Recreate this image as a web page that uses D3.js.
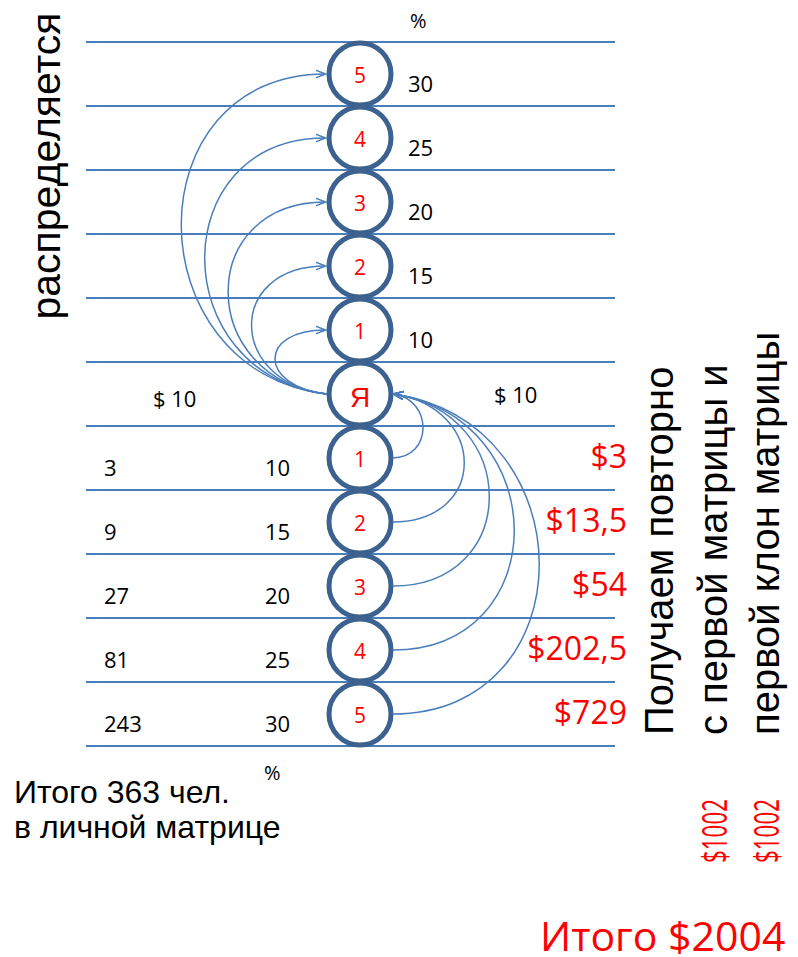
<!DOCTYPE html>
<html>
<head>
<meta charset="utf-8">
<script src="https://cdn.jsdelivr.net/npm/d3@7"></script>
<style>
  body { margin: 0; background: #fff; }
</style>
</head>
<body>
<div id="viz"></div>
<script>
// levels above "Я" (who you distribute to) and below (who pays you)
const upperLevels = [5, 4, 3, 2, 1];
const upperPercent = [30, 25, 20, 15, 10];
const lowerLevels = [1, 2, 3, 4, 5];
const lowerPeople = [3, 9, 27, 81, 243];
const lowerPercent = [10, 15, 20, 25, 30];
const lowerIncome = ["$3", "$13,5", "$54", "$202,5", "$729"];
const centerLabel = "Я";
const entryFee = "$ 10";
const sideTitle = "распределяется";
const rightLines = ["Получаем повторно", "с первой матрицы и", "первой клон матрицы"];
const rightSums = ["$1002", "$1002"];
const peopleNote = ["Итого 363 чел.", "в личной матрице"];
const grandTotal = "Итого $2004";

const width = 798;
const height = 957;
const rowCount = 11;
const meRow = 5;

const lineColor = "#4a7ebb";
const circleColor = "#3d6290";
const red = "#ff0000";
const calibri = "'Open Sans', sans-serif";
const arial = "'Liberation Sans', Arial, sans-serif";

const svg = d3.select("#viz")
  .append("svg")
    .attr("width", width)
    .attr("height", height);

const y = d3.scaleLinear().domain([0, rowCount]).range([42, 746]);
const rowCenter = i => y(i + 0.5);
const upperRow = l => meRow - l;
const lowerRow = l => meRow + l;

const cx = 360;
const r = 31;

// how far each curved arrow swings out
const leftBulge = d3.scaleLinear().domain([1, 5]).range([68, 193]);
const rightBulge = d3.scaleLinear().domain([1, 2, 5]).range([40, 95, 195]);

// arrow head
svg.append("defs").append("marker")
    .attr("id", "arrow")
    .attr("viewBox", "0 -5 11 10")
    .attr("refX", 10)
    .attr("refY", 0)
    .attr("markerWidth", 11)
    .attr("markerHeight", 10)
    .attr("markerUnits", "userSpaceOnUse")
    .attr("orient", "auto")
  .append("path")
    .attr("d", "M0,-4L10,0L0,4")
    .attr("fill", "none")
    .attr("stroke", lineColor)
    .attr("stroke-width", 1.5);

// horizontal lines
svg.append("g")
  .selectAll("line")
  .data(d3.range(rowCount + 1))
  .join("line")
    .attr("x1", 86)
    .attr("x2", 615)
    .attr("y1", d => y(d))
    .attr("y2", d => y(d))
    .attr("stroke", lineColor)
    .attr("stroke-width", 2);

// circles
const nodes = [
  ...upperLevels.map(l => ({ row: upperRow(l), label: String(l), me: false })),
  { row: meRow, label: centerLabel, me: true },
  ...lowerLevels.map(l => ({ row: lowerRow(l), label: String(l), me: false }))
];

const node = svg.append("g")
  .selectAll("g")
  .data(nodes)
  .join("g")
    .attr("transform", d => `translate(${cx},${rowCenter(d.row)})`);

node.append("circle")
    .attr("r", r)
    .attr("fill", "#fff")
    .attr("stroke", circleColor)
    .attr("stroke-width", 5);

node.append("text")
    .attr("text-anchor", "middle")
    .attr("y", d => d.me ? 13 : 9)
    .attr("fill", red)
    .style("font-family", d => d.me ? arial : calibri)
    .style("font-size", d => d.me ? "28px" : "21px")
    .text(d => d.label);

// curved arrows
const meY = rowCenter(meRow);
const edge = r + 2.5;

function leftArc(l) {
  const k = leftBulge(l);
  const sx = cx - edge, sy = meY;
  const tx = cx - edge - 1, ty = rowCenter(upperRow(l));
  const p = d3.path();
  p.moveTo(sx, sy);
  p.bezierCurveTo(sx - k, sy - 0.12 * k, tx - k, ty, tx, ty);
  return p.toString();
}

function rightArc(l) {
  const k = rightBulge(l);
  const sx = cx + edge - 1, sy = rowCenter(lowerRow(l));
  const tx = cx + edge, ty = meY;
  const p = d3.path();
  p.moveTo(sx, sy);
  p.bezierCurveTo(sx + k, sy, tx + k, ty + 0.15 * k, tx, ty);
  return p.toString();
}

const arcs = svg.append("g")
    .attr("fill", "none")
    .attr("stroke", lineColor)
    .attr("stroke-width", 1.5);

arcs.selectAll(".up")
  .data(upperLevels)
  .join("path")
    .attr("class", "up")
    .attr("d", leftArc)
    .attr("marker-end", "url(#arrow)");

arcs.selectAll(".down")
  .data(lowerLevels)
  .join("path")
    .attr("class", "down")
    .attr("d", rightArc)
    .attr("marker-end", "url(#arrow)");

// numbers
const txt = svg.append("g")
    .style("font-family", calibri)
    .style("font-size", "22px")
    .attr("fill", "#000");

txt.append("text").attr("x", 410).attr("y", 28).style("font-size", "20px").text("%");

txt.selectAll(".upPct")
  .data(upperLevels)
  .join("text")
    .attr("x", 408)
    .attr("y", (d, i) => rowCenter(upperRow(d)) + 18)
    .text((d, i) => upperPercent[i]);

txt.append("text").attr("x", 153).attr("y", meY + 13).text(entryFee);
txt.append("text").attr("x", 494).attr("y", meY + 9).text(entryFee);

txt.selectAll(".people")
  .data(lowerLevels)
  .join("text")
    .attr("x", 104)
    .attr("y", d => rowCenter(lowerRow(d)) + 18)
    .text((d, i) => lowerPeople[i]);

txt.selectAll(".lowPct")
  .data(lowerLevels)
  .join("text")
    .attr("x", 265)
    .attr("y", d => rowCenter(lowerRow(d)) + 18)
    .text((d, i) => lowerPercent[i]);

txt.append("text").attr("x", 264).attr("y", 780).style("font-size", "20px").text("%");

svg.append("g")
  .selectAll("text")
  .data(lowerLevels)
  .join("text")
    .attr("x", 627)
    .attr("y", d => rowCenter(lowerRow(d)) + 10)
    .attr("text-anchor", "end")
    .attr("fill", red)
    .style("font-family", calibri)
    .style("font-size", "32px")
    .text((d, i) => lowerIncome[i]);

// rotated captions
svg.append("text")
    .attr("transform", "translate(60,166) rotate(-90)")
    .attr("text-anchor", "middle")
    .style("font-family", arial)
    .style("font-size", "41px")
    .text(sideTitle);

const rightX = [673, 727, 779];
svg.append("g")
  .selectAll("text")
  .data(rightLines)
  .join("text")
    .attr("transform", (d, i) => `translate(${rightX[i]},735) rotate(-90)`)
    .style("font-family", arial)
    .style("font-size", "40px")
    .text(d => d);

svg.append("g")
  .selectAll("text")
  .data(rightSums)
  .join("text")
    .attr("transform", (d, i) => `translate(${rightX[i + 1]},863) rotate(-90)`)
    .attr("textLength", 64)
    .attr("lengthAdjust", "spacingAndGlyphs")
    .attr("fill", red)
    .style("font-family", calibri)
    .style("font-size", "34px")
    .text(d => d);

svg.append("g")
  .selectAll("text")
  .data(peopleNote)
  .join("text")
    .attr("x", 14)
    .attr("y", (d, i) => 803 + i * 35)
    .style("font-family", arial)
    .style("font-size", "32px")
    .text(d => d);

svg.append("text")
    .attr("x", 540)
    .attr("y", 951)
    .attr("fill", red)
    .style("font-family", calibri)
    .style("font-size", "41px")
    .text(grandTotal);
</script>
</body>
</html>
